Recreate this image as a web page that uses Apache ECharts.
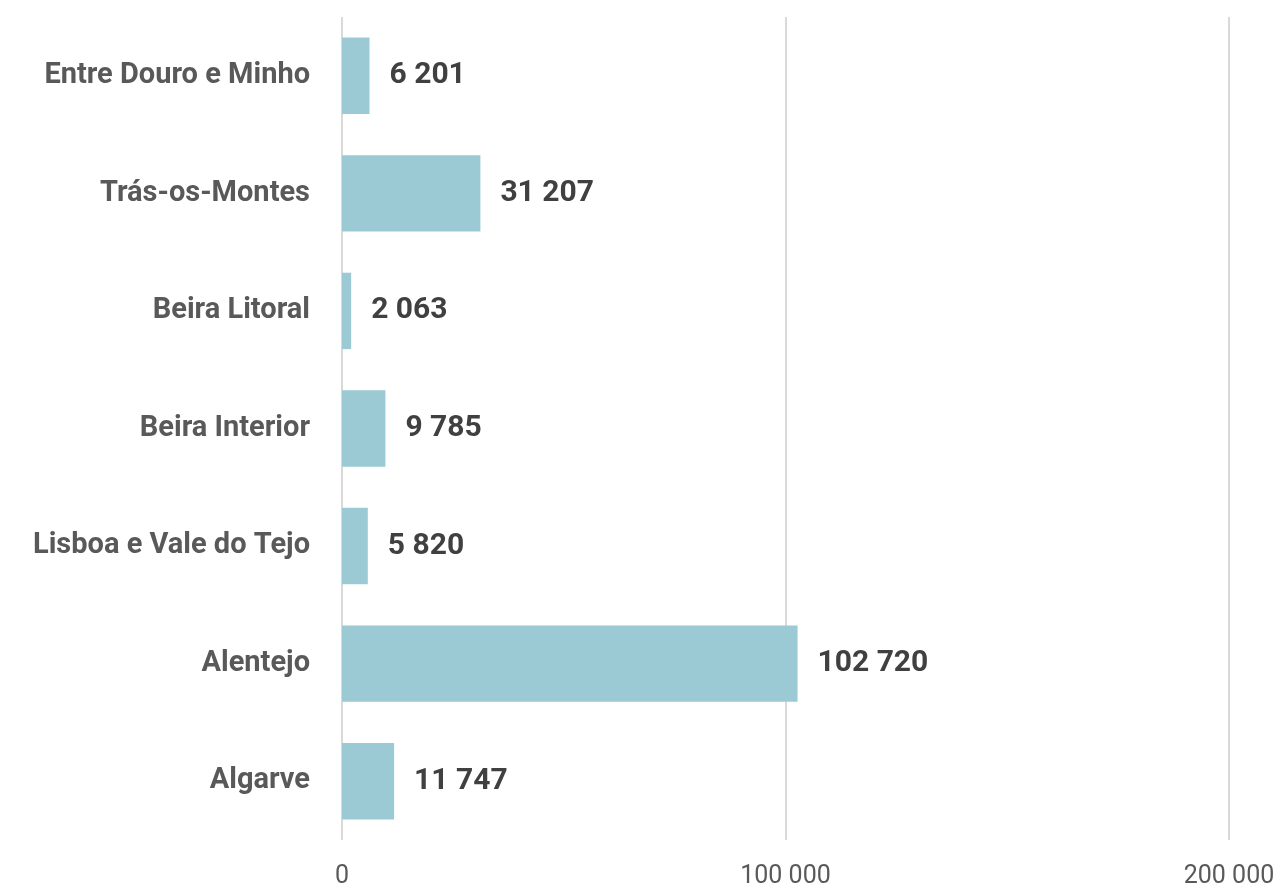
<!DOCTYPE html>
<html>
<head>
<meta charset="utf-8">
<script src="https://cdn.jsdelivr.net/npm/echarts@6/dist/echarts.min.js"></script>
<style>
    html, body { margin: 0; padding: 0; background: #fff; }
    #chart { width: 1279px; height: 889px; }
</style>
</head>
<body>
<div id="chart"></div>
<script>
// regiões, de cima para baixo
const regioes = ["Entre Douro e Minho", "Trás-os-Montes", "Beira Litoral", "Beira Interior", "Lisboa e Vale do Tejo", "Alentejo", "Algarve"];
const valores = [6201, 31207, 2063, 9785, 5820, 102720, 11747];

const fmt = v => String(v).replace(/\B(?=(\d{3})+(?!\d))/g, " ");

const chart = echarts.init(document.getElementById('chart'));
chart.setOption({
    animation: false,
    grid: { left: 342, right: 50, top: 17, bottom: 49 },
    xAxis: {
        type: 'value',
        min: 0,
        max: 200000,
        interval: 100000,
        axisLine: { show: false },
        axisTick: { show: false },
        splitLine: { lineStyle: { color: '#d9d9d9', width: 2 } },
        axisLabel: {
            formatter: fmt,
            color: '#595959',
            fontFamily: 'Roboto',
            fontSize: 25,
            margin: 24
        }
    },
    yAxis: {
        type: 'category',
        inverse: true,
        data: regioes,
        axisLine: { show: false },
        axisTick: { show: false },
        axisLabel: {
            color: '#595959',
            fontFamily: 'Roboto',
            fontWeight: 'bold',
            fontSize: 29,
            margin: 32
        }
    },
    series: [{
        type: 'bar',
        data: valores,
        barWidth: '65%',
        itemStyle: { color: '#9bcad5' },
        label: {
            show: true,
            position: 'right',
            distance: 20,
            formatter: p => fmt(p.value),
            color: '#404040',
            fontFamily: 'Roboto',
            fontWeight: 'bold',
            fontSize: 30
        }
    }]
});
</script>
</body>
</html>
